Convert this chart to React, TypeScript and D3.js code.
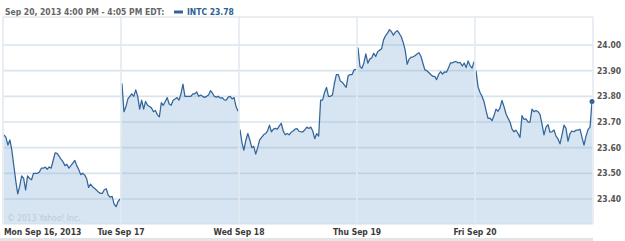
import React from "react";
import * as d3 from "d3";

const HEADER = "Sep 20, 2013 4:00 PM - 4:05 PM EDT:";
const SYMBOL = "INTC";
const LAST = 23.78;
const DAY_LABELS = ["Mon Sep 16, 2013", "Tue Sep 17", "Wed Sep 18", "Thu Sep 19", "Fri Sep 20"];
const Y_TICKS = [23.4, 23.5, 23.6, 23.7, 23.8, 23.9, 24.0];

const MON = [
  23.65, 23.64, 23.61, 23.63, 23.59, 23.53, 23.47, 23.42, 23.45, 23.49,
  23.48, 23.435, 23.49, 23.48, 23.475, 23.5, 23.5, 23.5, 23.505, 23.52,
  23.52, 23.524, 23.516, 23.525, 23.52, 23.55, 23.58, 23.578, 23.567, 23.555,
  23.545, 23.53, 23.535, 23.52, 23.53, 23.54, 23.55, 23.53, 23.515, 23.495,
  23.5, 23.494, 23.48, 23.445, 23.458, 23.448, 23.442, 23.435, 23.427, 23.422,
  23.422, 23.436, 23.44, 23.415, 23.407, 23.41, 23.38, 23.37, 23.39, 23.4,
];
const TUE = [
  23.85, 23.74, 23.76, 23.79, 23.8, 23.81, 23.8, 23.825, 23.8, 23.75,
  23.785, 23.75, 23.78, 23.765, 23.76, 23.755, 23.74, 23.745, 23.728, 23.72,
  23.775, 23.765, 23.78, 23.795, 23.77, 23.765, 23.785, 23.79, 23.795, 23.785,
  23.81, 23.848, 23.8, 23.8, 23.8, 23.8, 23.81, 23.81, 23.817, 23.8,
  23.805, 23.8, 23.796, 23.8, 23.805, 23.822, 23.812, 23.8, 23.797, 23.8,
  23.793, 23.795, 23.786, 23.785, 23.797, 23.8, 23.79, 23.795, 23.76, 23.742,
];
const WED = [
  23.67, 23.62, 23.59, 23.63, 23.655, 23.63, 23.6, 23.605, 23.575, 23.6,
  23.63, 23.64, 23.65, 23.655, 23.665, 23.688, 23.662, 23.672, 23.675, 23.672,
  23.685, 23.695, 23.665, 23.65, 23.655, 23.65, 23.66, 23.665, 23.672, 23.674,
  23.664, 23.662, 23.662, 23.67, 23.68, 23.675, 23.68, 23.665, 23.635, 23.655,
  23.645, 23.785, 23.785, 23.815, 23.835, 23.8, 23.8, 23.805, 23.85, 23.885,
  23.885, 23.86, 23.855, 23.845, 23.835, 23.88, 23.885, 23.885, 23.903, 23.905,
];
const THU = [
  23.99, 23.916, 23.909, 23.93, 23.965, 23.929, 23.945, 23.95, 23.968, 23.955,
  23.974, 23.98, 23.985, 24.02, 24.036, 24.046, 24.06, 24.052, 24.038, 24.05,
  24.056, 24.045, 24.032, 24.01, 23.98, 23.925, 23.945, 23.952, 23.954, 23.958,
  23.965, 23.97, 23.956, 23.929, 23.903, 23.9, 23.893, 23.885, 23.878, 23.878,
  23.865, 23.885, 23.896, 23.887, 23.895, 23.894, 23.91, 23.93, 23.93, 23.935,
  23.935, 23.93, 23.932, 23.918, 23.93, 23.912, 23.938, 23.92, 23.91, 23.935,
];
const FRI = [
  23.9, 23.838, 23.815, 23.8, 23.78, 23.745, 23.714, 23.715, 23.705, 23.725,
  23.75, 23.742, 23.755, 23.784, 23.76, 23.732, 23.715, 23.7, 23.672, 23.662,
  23.668, 23.655, 23.64, 23.725, 23.71, 23.712, 23.7, 23.7, 23.75, 23.74,
  23.745, 23.74, 23.73, 23.692, 23.65, 23.68, 23.69, 23.66, 23.662, 23.669,
  23.645, 23.634, 23.615, 23.65, 23.688, 23.675, 23.625, 23.655, 23.665, 23.662,
  23.668, 23.668, 23.672, 23.64, 23.61, 23.645, 23.67, 23.68, 23.78,
];
const DAYS = [MON, TUE, WED, THU, FRI];

const W = 625;
const H = 241;
const LEFT = 3;
const RIGHT = 593;
const TOP = 17;
const BOTTOM = 224;

const FONT = "'DejaVu Sans Condensed', 'DejaVu Sans', sans-serif";
const LINE_COLOR = "#33659a";

export default function App() {
  const x = d3.scaleLinear().domain([0, DAYS.length]).range([LEFT, RIGHT]);
  const y = d3.scaleLinear().domain([23.4, 24.0]).range([199, 45]);

  const dayPts: [number, number][][] = DAYS.map((vals, d) =>
    vals.map((v, i) => [d + (i + 0.5) / vals.length, v] as [number, number])
  );
  const pts = dayPts.flat();

  const line = d3
    .line<[number, number]>()
    .x((p) => x(p[0]))
    .y((p) => y(p[1]));
  const area = d3
    .area<[number, number]>()
    .x((p) => x(p[0]))
    .y0(BOTTOM)
    .y1((p) => y(p[1]));

  const lastPt = pts[pts.length - 1];
  const bounds = d3.range(DAYS.length + 1);
  const cond = { fontStretch: "condensed" } as React.CSSProperties;

  return (
    <svg
      width={W}
      height={H}
      style={{ position: "absolute", left: 0, top: 0, background: "#fff" }}
      fontFamily={FONT}
    >
      <rect x={0} y={0} width={W} height={H} fill="#ffffff" />
      {/* header */}
      <text x={5} y={15} fontSize={8.5} fontWeight="bold" fill="#666" style={cond}>
        {HEADER}
      </text>
      <rect x={174} y={10.5} width={9} height={3} fill={LINE_COLOR} />
      <text x={187} y={15} fontSize={8.5} fontWeight="bold" fill="#2e5f93" style={cond}>
        {`${SYMBOL} ${d3.format(".2f")(LAST)}`}
      </text>

      <line x1={LEFT} x2={RIGHT} y1={TOP} y2={TOP} stroke="#e3e9ef" strokeWidth={1.5} />

      {/* area */}
      <path d={area(pts) || ""} fill="#d6e5f1" />

      {/* horizontal grid */}
      {Y_TICKS.map((t) => (
        <line
          key={t}
          x1={LEFT}
          x2={RIGHT}
          y1={y(t)}
          y2={y(t)}
          stroke="rgba(140,170,200,0.32)"
          strokeWidth={1.6}
        />
      ))}

      {/* watermark */}
      <text x={7} y={221} fontSize={8.5} fill="#bccad6" style={cond}>
        © 2013 Yahoo! Inc.
      </text>

      {/* line, one segment per trading day */}
      {dayPts.map((dp, i) => (
        <path
          key={i}
          d={line(dp) || ""}
          fill="none"
          stroke={LINE_COLOR}
          strokeWidth={1.25}
          strokeLinejoin="round"
        />
      ))}

      {/* vertical dividers on top */}
      {bounds.map((b) => (
        <line key={b} x1={x(b)} x2={x(b)} y1={TOP} y2={BOTTOM} stroke="#e3eaf0" strokeWidth={1.6} />
      ))}
      <line x1={LEFT} x2={RIGHT} y1={BOTTOM} y2={BOTTOM} stroke="#d3dfe9" strokeWidth={1} />

      {/* last point */}
      <circle cx={x(lastPt[0])} cy={y(lastPt[1])} r={2.5} fill={LINE_COLOR} />

      {/* y axis labels */}
      {Y_TICKS.map((t) => (
        <text key={t} x={597} y={y(t) + 3} fontSize={8.5} fontWeight="bold" fill="#555" style={cond}>
          {d3.format(".2f")(t)}
        </text>
      ))}

      {/* x axis labels */}
      {DAY_LABELS.map((lab, i) => (
        <text
          key={lab}
          x={i === 0 ? 4 : x(i)}
          y={235}
          fontSize={8.5}
          fontWeight="bold"
          fill="#3a3a3a"
          textAnchor={i === 0 ? "start" : "middle"}
          style={cond}
        >
          {lab}
        </text>
      ))}

      {/* bottom bar */}
      <rect x={0} y={238} width={RIGHT} height={3} fill="#e4e4e4" />
    </svg>
  );
}
